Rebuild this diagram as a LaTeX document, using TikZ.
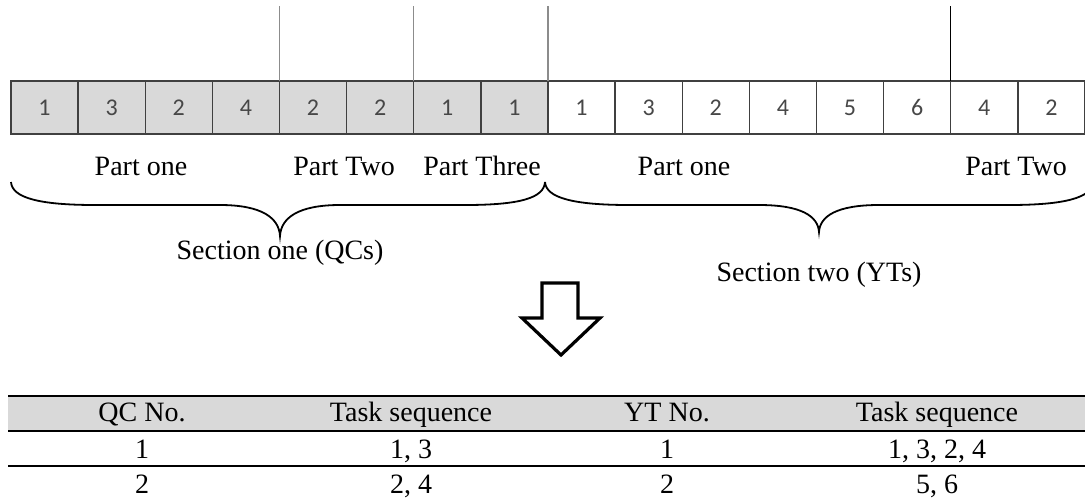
\documentclass[tikz,border=0pt]{standalone}
\usepackage{fontspec}
\setmainfont{Liberation Serif}
\newfontfamily\cellfont{Carlito}
\begin{document}
\begin{tikzpicture}[x=1pt,y=-1pt,
  cell/.style={draw=black!75, line width=1.4pt, minimum width=67.125pt, minimum height=53pt,
    inner sep=0pt, outer sep=0pt, anchor=north west, font=\cellfont\fontsize{24}{26}\selectfont, text=black!72},
  qcell/.style={cell, fill=black!15},
  ycell/.style={cell, fill=white},
  vline/.style={line width=1.3pt},
  lbl/.style={font=\fontsize{28}{32}\selectfont, inner sep=0pt, anchor=base},
  brace/.style={line width=1.8pt},
  rule/.style={line width=2.6pt},
  hollow/.style={line width=3.2pt, line join=miter, fill=white}
]
\useasboundingbox (0,0) rectangle (1085,499);
% cells
\foreach \v [count=\i from 0] in {1,3,2,4,2,2,1,1}
  \node[qcell] (c\i) at ({11+67.125*\i},81) {\v};
\foreach \v [count=\i from 0] in {1,3,2,4,5,6,4,2}
  \node[ycell] (d\i) at ({11+67.125*(8+\i)},81) {\v};
% vertical markers
\coordinate (t1) at (c4.north west |- 0,6);
\coordinate (t2) at (c6.north west |- 0,6);
\coordinate (t3) at (d0.north west |- 0,6);
\coordinate (t4) at (d6.north west |- 0,6);
\draw[vline, black!45] (t1) -- (c4.north west);
\draw[vline, black!45] (t2) -- (c6.north west);
\draw[vline, black!45] (t3) -- (d0.north west);
\draw[vline, black] (t4) -- (d6.north west);
% part labels
\node[lbl] (p1) at (141,175) {Part one};
\node[lbl] (p2) at (344,175) {Part Two};
\node[lbl] (p3) at (482,175) {Part Three};
\node[lbl] (p4) at (684,175) {Part one};
\node[lbl] (p5) at (1016,175) {Part Two};
% braces
\draw[brace] (11,182) .. controls (12,198) and (40,205) .. (95,205)
  -- (220,205) .. controls (262,205) and (279,218) .. (280,236)
  .. controls (281,218) and (298,205) .. (340,205)
  -- (465,205) .. controls (520,205) and (544,198) .. (545,182);
\draw[brace] (545,182) .. controls (546,198) and (574,205) .. (629,205)
  -- (759,205) .. controls (801,205) and (818,216) .. (819,232)
  .. controls (820,216) and (837,205) .. (879,205)
  -- (1009,205) .. controls (1064,205) and (1092,198) .. (1093,182);
% section labels
\node[lbl] (s1) at (280,259) {Section one (QCs)};
\node[lbl] (s2) at (819,281) {Section two (YTs)};
% hollow arrow
\draw[hollow] (542,283) -- (578,283) -- (578,318) -- (600,318) -- (561,355)
  -- (522,318) -- (542,318) -- cycle;
% table
\fill[black!15] (8,396) rectangle (1085,431);
\draw[rule] (8,396) -- (1085,396);
\draw[rule] (8,431) -- (1085,431);
\draw[rule] (8,466) -- (1085,466);
\node[lbl] (h1) at (142,421) {QC No.};
\node[lbl] (h2) at (411,421) {Task sequence};
\node[lbl] (h3) at (667,421) {YT No.};
\node[lbl] (h4) at (937,421) {Task sequence};
\node[lbl] (r11) at (142,458) {1};
\node[lbl] (r12) at (411,458) {1, 3};
\node[lbl] (r13) at (667,458) {1};
\node[lbl] (r14) at (937,458) {1, 3, 2, 4};
\node[lbl] (r21) at (142,493) {2};
\node[lbl] (r22) at (411,493) {2, 4};
\node[lbl] (r23) at (667,493) {2};
\node[lbl] (r24) at (937,493) {5, 6};
\end{tikzpicture}
\end{document}
